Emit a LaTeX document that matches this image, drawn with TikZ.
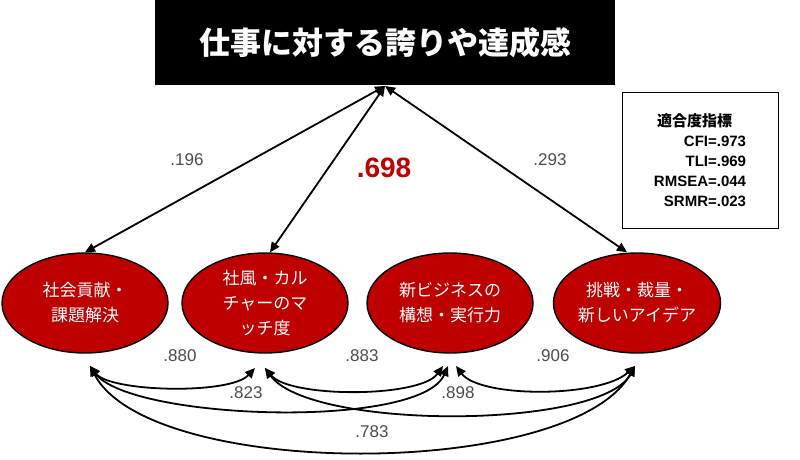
\documentclass[tikz,border=0pt]{standalone}
\usepackage{fontspec}
\setmainfont{Liberation Sans}
\newfontfamily\jp{Noto Sans CJK JP}
\usetikzlibrary{arrows.meta,shapes.geometric}
\begin{document}
\begin{tikzpicture}[x=1pt,y=-1pt,
 fac/.style={ellipse,draw=black,line width=1.4pt,fill=red!75!black,minimum width=166pt,minimum height=100pt,inner sep=0pt,text=white,font=\jp\fontsize{17}{25}\selectfont,align=center},
 arr/.style={{Triangle[length=10pt,width=9pt]}-{Triangle[length=10pt,width=9pt]},line width=1.8pt},
 lab/.style={text=black!70,font=\fontsize{17}{20}\selectfont}]
\useasboundingbox (0,0) rectangle (800,459);
\node[fill=black,minimum width=460pt,minimum height=85pt,inner sep=0pt,text=white,font=\jp\bfseries\fontsize{31}{36}\selectfont] (top) at (385,42.5) {仕事に対する誇りや達成感};
\node[draw=black,line width=1pt,minimum width=156pt,minimum height=136pt,align=right,font=\bfseries\fontsize{15}{20}\selectfont,inner sep=0pt] (fit) at (700,160) {{\jp 適合度指標}\hspace*{14pt}\\CFI=.973\\TLI=.969\\RMSEA=.044\\SRMR=.023};
\node[fac] (a) at (85,303) {社会貢献・\\課題解決};
\node[fac] (b) at (265,303) {社風・カル\\チャーのマ\\ッチ度};
\node[fac] (c) at (450,303) {新ビジネスの\\構想・実行力};
\node[fac] (d) at (637,303) {挑戦・裁量・\\新しいアイデア};
\coordinate (t) at (385,86);
\draw[arr] (t) -- (a.north);
\draw[arr] (t) -- ([xshift=5pt]b.north);
\draw[arr] (t) -- ([xshift=-10pt]d.north);
\node[lab] (l1) at (187,160) {.196};
\node[text=red!75!black,font=\bfseries\fontsize{28}{32}\selectfont] (l2) at (384,168) {.698};
\node[lab] (l3) at (550,160) {.293};
\coordinate (ab) at (90,366);
\coordinate (bb) at (265,368);
\coordinate (cb) at (448,366);
\coordinate (db) at (635,366);
\draw[arr] (ab) .. controls (110,392) and (230,395) .. ([xshift=-10pt]bb);
\draw[arr] (bb) .. controls (290,398) and (420,398) .. ([xshift=-5pt]cb);
\draw[arr] ([xshift=8pt]cb) .. controls (480,398) and (600,398) .. (db);
\draw[arr] (ab) .. controls (130,420) and (420,430) .. (cb);
\draw[arr] (bb) .. controls (310,430) and (600,430) .. (db);
\draw[arr] (ab) .. controls (150,480) and (570,480) .. (db);
\node[lab] (n1) at (180,356) {.880};
\node[lab] (n2) at (362,356) {.883};
\node[lab] (n3) at (553,356) {.906};
\node[lab] (n4) at (246,393) {.823};
\node[lab] (n5) at (458,393) {.898};
\node[lab] (n6) at (372,432) {.783};
\end{tikzpicture}
\end{document}
